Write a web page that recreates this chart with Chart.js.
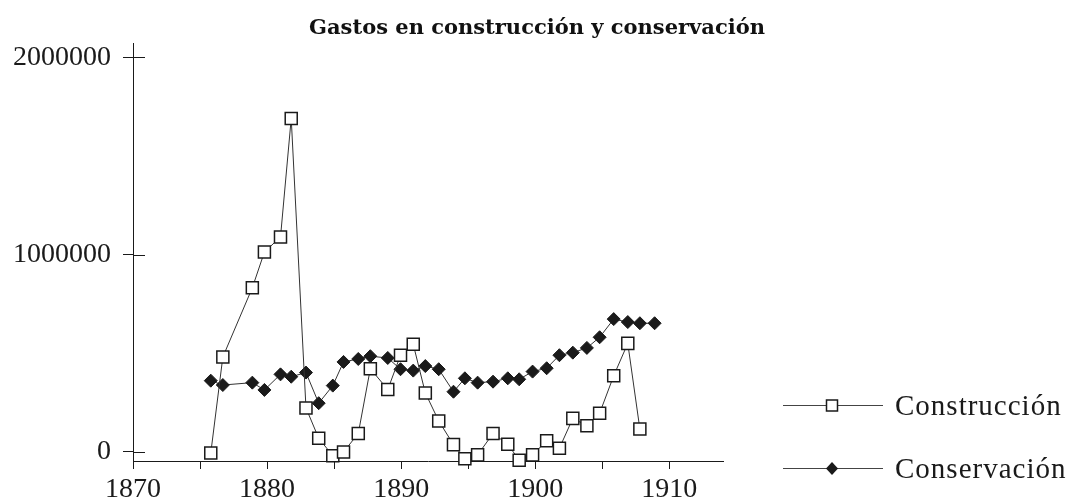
<!DOCTYPE html>
<html>
<head>
<meta charset="utf-8">
<script src="https://cdn.jsdelivr.net/npm/chart.js@4/dist/chart.umd.min.js"></script>
<style>
  html, body { margin: 0; padding: 0; background: #fff; }
</style>
</head>
<body>
<canvas id="chart" width="1074" height="502"></canvas>
<script>
// values (pesetas), x = year position on the axis
const years = [1875.8, 1876.7, 1878.9, 1879.8, 1881.0, 1881.8, 1882.9, 1883.85, 1884.9, 1885.7,
  1886.8, 1887.7, 1889.0, 1889.95, 1890.9, 1891.8, 1892.8, 1893.9, 1894.75, 1895.7,
  1896.85, 1897.95, 1898.8, 1899.8, 1900.85, 1901.8, 1902.8, 1903.85, 1904.8, 1905.85,
  1906.9, 1907.8, 1908.9];
const construccion = [-6000, 481000, 832000, 1013000, 1089000, 1690000, 223000, 69000, -19000, 0,
  93000, 422000, 316000, 490000, 545000, 299000, 157000, 37000, -35000, -15000,
  93000, 39000, -42000, -15000, 57000, 19000, 170000, 133000, 196000, 386000,
  550000, 116000, null];
const conservacion = [361000, 339000, 351000, 314000, 393000, 381000, 402000, 247000, 336000, 456000,
  471000, 485000, 476000, 419000, 412000, 435000, 419000, 305000, 373000, 351000,
  356000, 373000, 368000, 407000, 424000, 490000, 503000, 527000, 581000, 673000,
  658000, 652000, 652000];
const seriesNames = ['Construcción', 'Conservación'];
const xTicks = [1870, 1875, 1880, 1885, 1890, 1895, 1900, 1905, 1910];
const xLabels = [1870, 1880, 1890, 1900, 1910];
const yTicks = [0, 1000000, 2000000];
const chartTitle = 'Gastos en construcción y conservación';

const ink = '#1a1a1a';
const tickFont = { family: '"Liberation Serif", serif', size: 28 };

// y ticks cross the axis: draw the inner half
const innerTicks = {
  id: 'innerTicks',
  afterDraw(chart) {
    const ctx = chart.ctx, y = chart.scales.y;
    ctx.save();
    ctx.strokeStyle = ink;
    ctx.lineWidth = 1;
    ctx.beginPath();
    yTicks.forEach(v => {
      const p = Math.round(y.getPixelForValue(v)) + 0.5;
      ctx.moveTo(y.right, p);
      ctx.lineTo(y.right + 12, p);
    });
    ctx.stroke();
    ctx.restore();
  }
};

// legend: line with the marker on it, label to the right
const lineLegend = {
  id: 'lineLegend',
  afterDraw(chart) {
    const ctx = chart.ctx;
    const rows = [405, 468];
    chart.data.datasets.forEach((ds, i) => {
      const y = rows[i];
      ctx.save();
      ctx.strokeStyle = '#444';
      ctx.lineWidth = 1;
      ctx.beginPath();
      ctx.moveTo(783, y + 0.5);
      ctx.lineTo(883, y + 0.5);
      ctx.stroke();
      ctx.beginPath();
      if (ds.pointStyle === 'rect') {
        ctx.rect(826.5, y - 5, 11, 11);
        ctx.fillStyle = '#fff';
        ctx.fill();
        ctx.lineWidth = 1.5;
        ctx.strokeStyle = ink;
        ctx.stroke();
      } else {
        ctx.moveTo(832, y - 6);
        ctx.lineTo(838, y + 0.5);
        ctx.lineTo(832, y + 7);
        ctx.lineTo(826, y + 0.5);
        ctx.closePath();
        ctx.fillStyle = ink;
        ctx.fill();
      }
      ctx.font = '29px "Liberation Serif", serif';
      ctx.letterSpacing = '1px';
      ctx.fillStyle = ink;
      ctx.textBaseline = 'middle';
      ctx.fillText(ds.label, 895, y + 2);
      ctx.restore();
    });
  }
};

new Chart(document.getElementById('chart'), {
  type: 'line',
  data: {
    datasets: [
      {
        label: seriesNames[0],
        data: years.map((x, i) => ({ x, y: construccion[i] })),
        borderColor: '#333',
        borderWidth: 1,
        pointStyle: 'rect',
        pointRadius: 8.5,
        pointBackgroundColor: '#fff',
        pointBorderColor: ink,
        pointBorderWidth: 1.5,
        tension: 0,
        clip: false
      },
      {
        label: seriesNames[1],
        data: years.map((x, i) => ({ x, y: conservacion[i] })),
        borderColor: '#333',
        borderWidth: 1,
        pointStyle: 'rectRot',
        pointRadius: 6.5,
        pointBackgroundColor: ink,
        pointBorderColor: ink,
        pointBorderWidth: 1,
        tension: 0,
        clip: false
      }
    ]
  },
  options: {
    responsive: false,
    animation: false,
    layout: { padding: 0 },
    scales: {
      x: {
        type: 'linear',
        min: 1870,
        max: 1914,
        afterBuildTicks: s => { s.ticks = xTicks.map(v => ({ value: v })); },
        afterFit: s => { s.height = 41; },
        ticks: {
          callback: v => xLabels.includes(v) ? String(v) : '',
          autoSkip: false,
          maxRotation: 0,
          padding: 4,
          color: ink,
          font: tickFont
        },
        grid: { drawOnChartArea: false, tickLength: 8, color: ink },
        border: { color: ink, width: 1 }
      },
      y: {
        type: 'linear',
        min: -46000,
        max: 2071000,
        afterBuildTicks: s => { s.ticks = yTicks.map(v => ({ value: v })); },
        afterFit: s => { s.width = 133; },
        ticks: {
          callback: v => String(v),
          padding: 12,
          color: ink,
          font: tickFont
        },
        grid: { drawOnChartArea: false, tickLength: 10, color: ink },
        border: { color: ink, width: 1 }
      },
      pad: {
        type: 'linear',
        position: 'right',
        display: true,
        afterFit: s => { s.width = 351; },
        ticks: { display: false },
        grid: { display: false },
        border: { display: false }
      }
    },
    plugins: {
      legend: { display: false },
      tooltip: { enabled: false },
      title: {
        display: true,
        text: chartTitle,
        color: '#111',
        font: { family: '"DejaVu Serif", serif', size: 21, weight: 'bold' },
        padding: { top: 16, bottom: 2 }
      }
    }
  },
  plugins: [innerTicks, lineLegend]
});
</script>
</body>
</html>
